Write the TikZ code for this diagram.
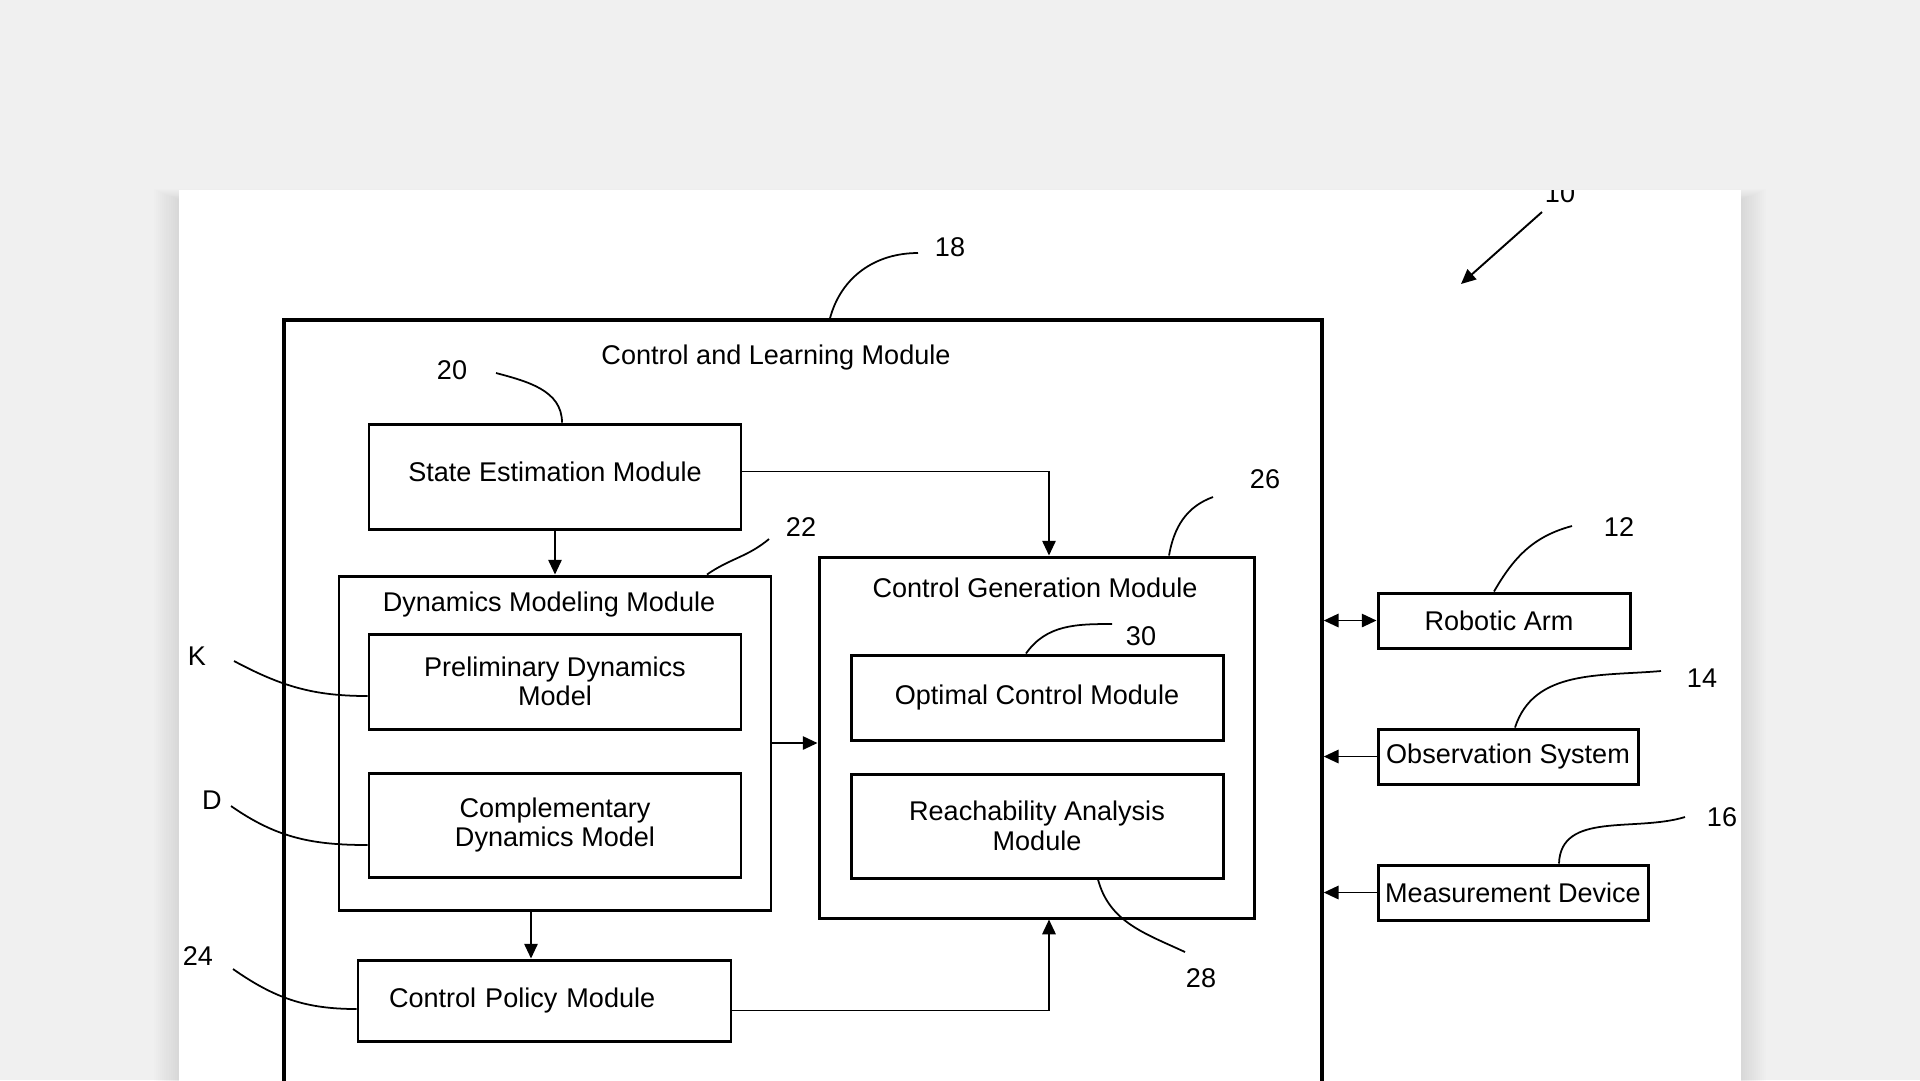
\documentclass[tikz,border=0pt]{standalone}
\usepackage{fontspec}
\setmainfont{Liberation Sans}
\usetikzlibrary{arrows.meta}

\definecolor{pagebg}{HTML}{F0F0F0}

\tikzset{
  box/.style = {draw, line width=0.85pt, inner sep=0pt, align=center},
  outerbox/.style = {draw, line width=1pt, inner sep=0pt},
  title/.style = {inner sep=0pt},
  num/.style = {inner sep=0pt},
  arr/.style = {line width=0.55pt, -{Triangle[length=4.2pt,width=3.8pt]}},
  biarr/.style = {line width=0.55pt, {Triangle[length=4.2pt,width=3.8pt]}-{Triangle[length=4.2pt,width=3.8pt]}},
  lead/.style = {line width=0.5pt},
}

\begin{document}
\begin{tikzpicture}[x=0.1mm, y=-0.1mm, font=\fontsize{7.7pt}{8.4pt}\selectfont]
\useasboundingbox (0,0) rectangle (1920,1080);
\fill[pagebg] (0,0) rectangle (1920,1080);
\foreach \s in {3,6,...,36}
  \fill[black, opacity=0.008] (179-0.7*\s,200-0.3*\s) rectangle (1741+0.7*\s,1100);
\fill[white] (179,190) rectangle (1741,1100);

\begin{scope}
\clip (179,190) rectangle (1741,1080);

\node[outerbox, minimum width=103.8mm, minimum height=81mm] (clm) at (803,725) {};
\node[title] (clmtitle) at (776,357) {Control and Learning Module};

\node[box, minimum width=37.2mm, minimum height=10.5mm] (se) at (555,476.5) {\raisebox{1mm}{State Estimation Module}};

\node[box, minimum width=43.2mm, minimum height=33.4mm] (dmm) at (555,743) {};
\node[title] (dmmtitle) at (549,604) {Dynamics Modeling Module};
\node[box, minimum width=37.2mm, minimum height=9.5mm] (pdm) at (555,681.5) {Preliminary Dynamics\\Model};
\node[box, minimum width=37.2mm, minimum height=10.4mm] (cdm) at (555,825) {Complementary\\Dynamics Model};

\node[box, minimum width=43.5mm, minimum height=36.1mm] (cgm) at (1036.5,737.5) {};
\node[title] (cgmtitle) at (1035,588) {Control Generation Module};
\node[box, minimum width=37.2mm, minimum height=8.5mm] (ocm) at (1037,697.5) {Optimal Control Module};
\node[box, minimum width=37.2mm, minimum height=10.4mm] (ram) at (1037,826) {Reachability Analysis\\Module};

\node[box, text width=31.1mm, inner xsep=3.1mm, align=left, minimum height=8.1mm] (cpm) at (544.5,1000.5) {Control Policy Module};

\node[box, minimum width=25.2mm, minimum height=5.5mm] (arm) at (1504,620.5) {Robotic Arm\hspace*{1mm}};
\node[box, minimum width=26mm, minimum height=5.5mm] (obs) at (1508,756.5) {Observation System};
\node[box, minimum width=27mm, minimum height=5.5mm] (mdv) at (1513,892.5) {Measurement Device};

\draw[arr] ([yshift=0.5mm]se.east) -| ([xshift=1.25mm]cgm.north);
\draw[arr] (se.south) -- (dmm.north);
\draw[arr] (dmm.east) -- (dmm.east -| cgm.west);
\draw[arr] ([xshift=-2.4mm]dmm.south) -- ([xshift=-2.4mm]dmm.south |- cpm.north);
\draw[arr] ([yshift=-1mm]cpm.east) -| ([xshift=1.25mm]cgm.south);
\draw[biarr] (arm.west) -- (arm.west -| clm.east);
\draw[arr] (obs.west) -- (obs.west -| clm.east);
\draw[arr] (mdv.west) -- (mdv.west -| clm.east);

\node[num] (n10) at (1560,193) {10};
\node[num] (n18) at (950,247) {18};
\node[num] (n20) at (452,370) {20};
\node[num] (n22) at (801,527) {22};
\node[num] (n26) at (1265,479) {26};
\node[num] (n30) at (1141,636) {30};
\node[num] (n28) at (1201,978) {28};
\node[num] (n12) at (1619,527) {12};
\node[num] (n14) at (1702,678) {14};
\node[num] (n16) at (1722,817) {16};
\node[num] (nK) at (197,656) {K};
\node[num] (nD) at (212,800) {D};
\node[num] (n24) at (198,956) {24};

\coordinate (l10a) at (1542,212);
\coordinate (l10b) at (1461,284);
\coordinate (l18) at (918,253);
\coordinate (l20) at (496,373);
\coordinate (l22) at (769,539);
\coordinate (l26) at (1213,497);
\coordinate (l30) at (1112,624);
\coordinate (l28) at (1185,952);
\coordinate (l12) at (1572,526);
\coordinate (l14) at (1661,671);
\coordinate (l16) at (1685,817);
\coordinate (lK) at (234,661);
\coordinate (lD) at (231,806);
\coordinate (l24) at (233,969);

\draw[arr] (l10a) -- (l10b);
\draw[lead] (l18) to[out=180, in=75] ([xshift=2.7mm]clm.north);
\draw[lead] (l20) to[out=-15, in=90] ([xshift=0.7mm]se.north);
\draw[lead] (l22) to[out=220, in=35] ([xshift=15.2mm]dmm.north);
\draw[lead] (l26) to[out=200, in=80] ([xshift=13.25mm]cgm.north);
\draw[lead] (l30) to[out=180, in=55] ([xshift=-1.1mm]ocm.north);
\draw[lead] ([xshift=6.1mm]ram.south) to[out=-75, in=155] (l28);
\draw[lead] (l12) to[out=195, in=60] ([xshift=-1mm]arm.north);
\draw[lead] (l14) to[out=185, in=72] ([xshift=0.7mm]obs.north);
\draw[lead] (l16) to[out=197, in=88] ([xshift=4.6mm]mdv.north);
\draw[lead] (lK) to[out=-28, in=180] ([yshift=-1.45mm]pdm.west);
\draw[lead] (lD) to[out=-35, in=180] ([yshift=-2mm]cdm.west);
\draw[lead] (l24) to[out=-35, in=180] ([yshift=-0.85mm]cpm.west);
\end{scope}
\end{tikzpicture}
\end{document}
